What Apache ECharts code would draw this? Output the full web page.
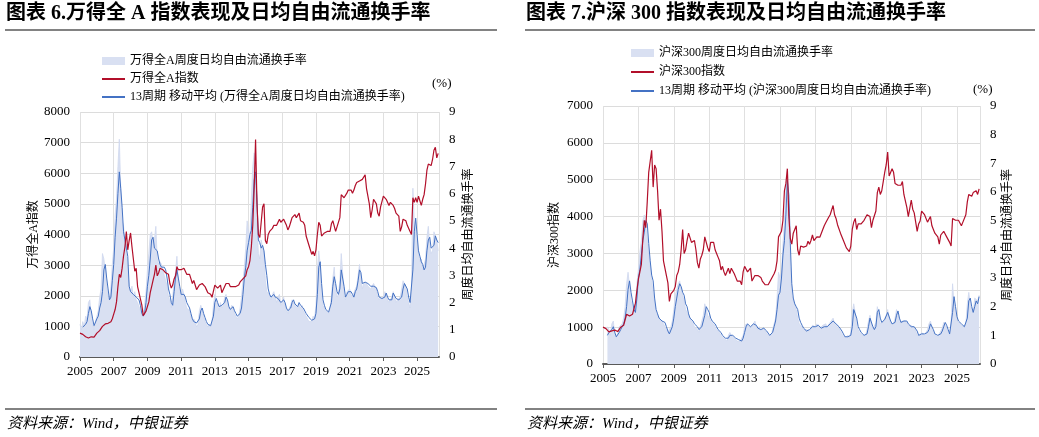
<!DOCTYPE html>
<html>
<head>
<meta charset="utf-8">
<script src="https://cdn.jsdelivr.net/npm/echarts@6/dist/echarts.min.js"></script>
<style>
  html, body { margin: 0; padding: 0; background: #fff; }
  #chart { width: 1039px; height: 437px; }
</style>
</head>
<body>
<div id="chart"></div>
<script>
// monthly points, Jan 2005 .. Apr 2026
const startYear = 2005
const yearTicks = [2005, 2007, 2009, 2011, 2013, 2015, 2017, 2019, 2021, 2023, 2025]

// 万得全A指数
const wdaIndex = [
  780, 770, 740, 700, 660, 640, 620, 650, 660, 640, 650, 680,
  780, 830, 860, 900, 1000, 1050, 1080, 1090, 1100, 1120, 1150, 1250,
  1400, 1550, 1800, 2300, 2700, 2600, 2900, 3300, 3600, 4100, 3500, 3800,
  4050, 3600, 3200, 2800, 2900, 2300, 2100, 1900, 1700, 1350, 1400, 1500,
  1650, 1800, 2100, 2300, 2500, 2700, 3000, 2650, 2750, 2900, 2950, 2850,
  2800, 2750, 2800, 2700, 2400, 2250, 2350, 2550, 2650, 2950, 2850, 2900,
  2850, 2850, 2900, 2850, 2700, 2650, 2700, 2550, 2400, 2500, 2350, 2200,
  2200, 2350, 2300, 2400, 2450, 2300, 2200, 2100, 2100, 2050, 1950, 2150,
  2350, 2400, 2250, 2200, 2350, 2100, 2150, 2300, 2400, 2350, 2400, 2300,
  2250, 2300, 2250, 2300, 2300, 2350, 2450, 2500, 2550, 2550, 2650, 2850,
  2950, 3150, 3600, 4300, 5500, 7100, 5000, 4000, 3900, 4400, 4900, 5000,
  3800, 3700, 4000, 4100, 4100, 4200, 4300, 4350, 4300, 4400, 4500, 4400,
  4450, 4500, 4450, 4300, 4150, 4250, 4400, 4550, 4600, 4650, 4550, 4600,
  4700, 4450, 4500, 4400, 4300, 3950, 3900, 3650, 3600, 3350, 3450, 3300,
  3500, 4000, 4400, 4300, 3950, 4000, 4050, 4000, 4100, 4150, 4100, 4350,
  4450, 4400, 4100, 4250, 4250, 4550, 5300, 5350, 5200, 5250, 5350, 5450,
  5500, 5450, 5350, 5450, 5600, 5700, 5650, 5750, 5700, 5800, 5850, 5950,
  5500, 5500, 5000, 4550, 4800, 5150, 5200, 5000, 4700, 4600, 4900, 4950,
  5250, 5250, 5150, 5100, 4950, 5050, 5100, 4950, 4850, 4700, 4650, 4600,
  4100, 4250, 4500, 4500, 4450, 4300, 4250, 4100, 4000, 5200, 5050, 5200,
  5050, 5250, 5200, 4950, 5150, 5300, 5650, 6100, 6300, 6350, 6250, 6450,
  6750, 6850, 6500, 6650
]
// 万得全A周度日均自由流通换手率 (%)
const wdaTurnover = [
  1.2, 1.0, 1.3, 1.1, 1.5, 1.4, 2.0, 2.1, 1.5, 1.2, 1.0, 1.3,
  1.5, 1.7, 2.2, 2.5, 3.8, 3.6, 3.2, 2.6, 2.2, 2.1, 2.6, 3.4,
  4.0, 5.2, 5.8, 7.0, 8.0, 6.2, 5.0, 4.8, 4.2, 3.8, 3.2, 2.5,
  2.4, 2.6, 2.2, 2.4, 2.1, 2.0, 2.0, 1.7, 1.5, 1.6, 1.9, 2.4,
  3.2, 3.8, 4.5, 4.6, 4.2, 4.3, 4.8, 3.6, 3.4, 3.5, 3.4, 3.2,
  3.0, 2.8, 2.6, 2.2, 2.1, 1.8, 2.2, 2.8, 3.1, 3.7, 2.7, 2.4,
  2.2, 2.5, 2.3, 2.0, 1.8, 1.8, 1.7, 1.5, 1.3, 1.4, 1.3, 1.1,
  1.2, 1.7, 1.9, 1.7, 1.5, 1.3, 1.2, 1.1, 1.2, 1.1, 1.3, 1.9,
  2.3, 2.1, 1.9, 1.7, 2.0, 1.8, 1.9, 2.2, 2.3, 1.9, 1.8, 1.7,
  1.9, 1.8, 1.6, 1.5, 1.4, 1.5, 1.8, 2.2, 2.8, 3.3, 4.0, 5.0,
  4.6, 4.5, 5.8, 7.0, 7.5, 7.2, 5.0, 3.8, 3.6, 4.3, 4.3, 3.8,
  2.8, 2.4, 2.4, 2.3, 2.1, 2.3, 2.4, 2.2, 2.0, 2.2, 2.3, 1.9,
  2.0, 2.2, 1.9, 1.7, 1.6, 1.8, 1.9, 2.1, 2.1, 1.9, 1.9, 1.8,
  1.9, 1.8, 1.9, 1.7, 1.7, 1.5, 1.5, 1.3, 1.3, 1.3, 1.5, 1.4,
  1.9, 3.2, 3.9, 3.4, 2.2, 1.9, 1.8, 1.7, 1.7, 1.6, 1.8, 2.2,
  2.9, 3.3, 2.5, 2.2, 2.3, 2.8, 3.8, 3.1, 2.2, 2.1, 2.4, 2.4,
  2.5, 2.3, 2.2, 2.2, 2.5, 2.6, 3.0, 3.4, 2.9, 2.5, 2.7, 2.7,
  2.7, 2.6, 2.6, 2.5, 2.6, 2.7, 2.6, 2.5, 2.2, 2.1, 2.2, 2.1,
  2.2, 2.4, 2.3, 2.1, 2.0, 2.1, 2.2, 2.4, 2.2, 2.0, 2.1, 2.1,
  2.2, 2.5, 2.8, 2.7, 2.6, 2.2, 2.0, 1.8, 2.4, 6.2, 5.0, 4.6,
  4.0, 3.8, 3.5, 3.6, 3.2, 3.2, 3.6, 4.4, 4.8, 4.1, 3.8, 3.9,
  4.6, 4.6, 4.3, 3.9
]
// 13周期移动平均 (%)
const wdaMa13 = [
  null, null, 1.1, 1.1, 1.2, 1.3, 1.6, 1.85, 1.7, 1.4, 1.15, 1.2,
  1.4, 1.5, 1.8, 2.0, 2.4, 3.2, 3.4, 2.9, 2.5, 2.1, 2.2, 2.8,
  3.4, 4.4, 5.1, 6.0, 6.8, 6.2, 5.5, 4.6, 4.3, 4.0, 3.7, 2.6,
  2.4, 2.4, 2.3, 2.3, 2.2, 2.2, 2.1, 1.9, 1.6, 1.5, 1.6, 2.0,
  2.6, 3.0, 3.6, 4.3, 4.4, 4.0, 4.0, 3.9, 3.6, 3.4, 3.3, 3.3,
  3.3, 3.2, 2.9, 2.5, 2.3, 2.0, 1.9, 2.4, 2.9, 3.2, 2.9, 2.6,
  2.3, 2.3, 2.3, 2.2, 2.0, 1.9, 1.8, 1.6, 1.4, 1.3, 1.3, 1.25,
  1.2, 1.4, 1.7, 1.8, 1.6, 1.45, 1.3, 1.2, 1.15, 1.15, 1.2, 1.5,
  2.0, 2.15, 2.0, 1.85, 1.8, 1.9, 1.85, 2.0, 2.2, 2.1, 1.85, 1.75,
  1.8, 1.85, 1.7, 1.6, 1.5, 1.45, 1.6, 1.8, 2.3, 2.9, 3.3, 3.9,
  4.2, 4.5, 4.65, 5.5, 6.5, 6.8, 5.8, 4.3, 4.2, 4.0, 4.1, 3.9,
  3.4, 3.0, 2.5, 2.3, 2.2, 2.2, 2.3, 2.2, 2.15, 2.15, 2.1, 2.0,
  2.0, 2.1, 2.0, 1.8, 1.7, 1.75, 1.8, 2.0, 2.1, 1.95, 1.9, 1.85,
  2.0, 1.9, 1.85, 1.8, 1.75, 1.6, 1.55, 1.45, 1.4, 1.35, 1.35, 1.4,
  1.6, 2.3, 3.3, 3.5, 2.7, 2.1, 1.9, 1.75, 1.7, 1.65, 1.7, 2.0,
  2.6, 2.95, 2.7, 2.4, 2.3, 2.5, 3.2, 3.25, 2.6, 2.2, 2.3, 2.4,
  2.4, 2.4, 2.3, 2.2, 2.4, 2.5, 2.8, 3.2, 3.1, 2.7, 2.7, 2.75,
  2.7, 2.7, 2.65, 2.6, 2.55, 2.6, 2.6, 2.55, 2.4, 2.2, 2.15, 2.15,
  2.2, 2.2, 2.35, 2.2, 2.1, 2.05, 2.1, 2.35, 2.3, 2.15, 2.1, 2.1,
  2.15, 2.2, 2.5, 2.7, 2.75, 2.5, 2.2, 2.0, 1.95, 3.2, 4.6, 5.1,
  4.5, 3.9, 3.7, 3.5, 3.4, 3.2, 3.3, 3.9, 4.3, 4.4, 4.0, 3.95,
  4.1, 4.45, 4.3, 4.2
]

// 沪深300指数
const hsIndex = [
  1000, 1010, 960, 920, 870, 880, 900, 940, 920, 900, 880, 920,
  1000, 1040, 1050, 1200, 1350, 1400, 1300, 1300, 1350, 1400, 1650, 2000,
  2300, 2500, 2700, 3400, 3900, 3700, 4400, 5200, 5500, 5800, 4800, 5400,
  5300, 4700, 3900, 4200, 3600, 2800, 2800, 2400, 2200, 1700, 1900, 1850,
  2000, 2100, 2400, 2500, 2700, 3100, 3650, 3000, 3100, 3350, 3550, 3550,
  3300, 3300, 3350, 3100, 2750, 2600, 2850, 2950, 3100, 3450, 3300, 3150,
  3050, 3300, 3250, 3300, 3100, 3000, 2900, 2800, 2550, 2650, 2500, 2400,
  2450, 2600, 2450, 2600, 2580, 2450, 2350, 2250, 2300, 2250, 2150, 2500,
  2650, 2650, 2500, 2450, 2600, 2250, 2300, 2400, 2450, 2400, 2450, 2350,
  2250, 2200, 2150, 2150, 2150, 2180, 2300, 2350, 2450, 2550, 2800, 3450,
  3500, 3600, 3900, 4700, 4900, 5300, 4000, 3400, 3250, 3550, 3600, 3750,
  3100, 2950, 3200, 3180, 3170, 3150, 3200, 3330, 3250, 3350, 3500, 3350,
  3400, 3450, 3460, 3440, 3480, 3650, 3750, 3830, 3840, 3980, 4050, 4030,
  4300, 4050, 3950, 3780, 3800, 3550, 3500, 3350, 3400, 3150, 3150, 3050,
  3200, 3650, 3850, 3950, 3650, 3800, 3850, 3800, 3850, 3900, 3850, 4050,
  4050, 4000, 3700, 3900, 3880, 4150, 4650, 4800, 4600, 4700, 4950, 5200,
  5400, 5750, 5100, 5100, 5300, 5200, 4900, 4850, 4850, 4900, 4850, 4950,
  4600, 4550, 4250, 4000, 4050, 4450, 4200, 4100, 3850, 3600, 3800, 3880,
  4150, 4100, 4050, 4000, 3850, 3850, 4000, 3750, 3700, 3550, 3500, 3450,
  3250, 3500, 3550, 3600, 3600, 3450, 3450, 3300, 3200, 3950, 3900, 3900,
  3850, 3900, 3900, 3750, 3850, 3900, 4050, 4400, 4600, 4650, 4550, 4650,
  4700, 4700, 4600, 4750
]
// 沪深300周度日均自由流通换手率 (%)
const hsTurnover = [
  null, null, null, 1.3, 1.2, 1.0, 1.4, 1.5, 1.0, 0.9, 0.9, 1.3,
  1.3, 1.4, 1.6, 2.0, 2.8, 3.2, 2.7, 2.2, 2.0, 1.8, 2.1, 2.8,
  3.3, 3.9, 4.3, 5.0, 5.2, 4.8, 4.4, 3.8, 3.4, 2.9, 2.5, 2.1,
  1.8, 1.7, 1.6, 1.6, 1.5, 1.4, 1.4, 1.2, 1.1, 1.1, 1.3, 1.5,
  1.9, 2.4, 2.6, 2.8, 2.9, 2.6, 2.6, 2.2, 1.9, 1.8, 1.7, 1.6,
  1.5, 1.4, 1.3, 1.3, 1.2, 1.1, 1.3, 1.5, 1.7, 2.1, 1.9, 1.7,
  1.6, 1.5, 1.5, 1.4, 1.3, 1.2, 1.2, 1.1, 1.0, 1.0, 0.9, 0.85,
  0.8, 1.0, 1.1, 1.0, 0.95, 0.9, 0.85, 0.8, 0.85, 0.8, 0.8, 1.0,
  1.3, 1.4, 1.4, 1.3, 1.35, 1.3, 1.4, 1.5, 1.3, 1.2, 1.3, 1.15,
  1.2, 1.25, 1.15, 1.1, 1.0, 0.95, 1.0, 1.2, 1.4, 1.6, 2.3, 3.2,
  3.0, 3.2, 4.2, 5.0, 6.0, 6.8, 5.2, 3.4, 2.4, 2.2, 2.1, 1.9,
  1.6, 1.4, 1.4, 1.3, 1.2, 1.15, 1.2, 1.25, 1.15, 1.2, 1.35, 1.3,
  1.3, 1.4, 1.35, 1.25, 1.2, 1.35, 1.3, 1.4, 1.3, 1.35, 1.45, 1.45,
  1.6, 1.4, 1.35, 1.3, 1.3, 1.15, 1.05, 0.95, 0.95, 0.9, 1.0, 0.9,
  1.1, 1.8, 2.1, 1.8, 1.3, 1.2, 1.1, 1.1, 1.0, 0.95, 1.0, 1.2,
  1.5, 1.7, 1.4, 1.2, 1.15, 1.45, 2.0, 1.7, 1.4, 1.4, 1.5, 1.6,
  1.7, 1.9, 1.6, 1.4, 1.4, 1.4, 1.6, 1.9, 1.7, 1.45, 1.45, 1.5,
  1.5, 1.5, 1.5, 1.35, 1.3, 1.35, 1.3, 1.25, 1.15, 1.0, 1.05, 1.0,
  1.1, 1.1, 1.0, 1.05, 1.2, 1.4, 1.5, 1.3, 1.1, 1.0, 1.0, 0.95,
  1.0, 1.15, 1.25, 1.45, 1.4, 1.25, 1.1, 1.0, 1.4, 2.8, 2.1, 1.8,
  1.5, 1.5, 1.4, 1.4, 1.3, 1.3, 1.4, 2.1, 2.5, 2.1, 1.9, 1.8,
  2.3, 2.3, 2.2, 2.4
]
// 13周期移动平均 (%)
const hsMa13 = [
  null, null, null, 1.0, 1.1, 1.05, 1.2, 1.3, 1.1, 0.95, 0.9, 1.1,
  1.2, 1.3, 1.4, 1.6, 2.0, 2.6, 2.9, 2.5, 2.2, 1.9, 1.8, 2.3,
  3.0, 3.3, 3.8, 4.3, 4.6, 5.0, 4.9, 4.2, 3.6, 3.1, 2.9, 2.3,
  1.9, 1.75, 1.6, 1.55, 1.5, 1.5, 1.45, 1.3, 1.15, 1.05, 1.1, 1.3,
  1.6, 2.0, 2.3, 2.6, 2.8, 2.7, 2.5, 2.4, 2.1, 2.0, 1.75, 1.6,
  1.6, 1.5, 1.4, 1.35, 1.3, 1.2, 1.15, 1.3, 1.5, 1.7, 2.0, 1.9,
  1.8, 1.6, 1.5, 1.45, 1.4, 1.3, 1.2, 1.2, 1.1, 1.0, 0.95, 0.9,
  0.85, 0.9, 1.0, 1.05, 1.0, 0.95, 0.9, 0.85, 0.85, 0.8, 0.8, 0.9,
  1.1, 1.3, 1.4, 1.35, 1.3, 1.3, 1.4, 1.45, 1.35, 1.25, 1.3, 1.2,
  1.2, 1.25, 1.2, 1.15, 1.1, 1.0, 0.95, 1.1, 1.3, 1.5, 1.9, 2.4,
  2.5, 3.0, 3.8, 4.3, 5.2, 6.4, 5.9, 4.2, 2.8, 2.3, 2.1, 2.0,
  1.9, 1.6, 1.45, 1.35, 1.25, 1.2, 1.15, 1.2, 1.2, 1.2, 1.3, 1.35,
  1.3, 1.35, 1.35, 1.3, 1.25, 1.3, 1.3, 1.35, 1.3, 1.3, 1.4, 1.45,
  1.5, 1.5, 1.4, 1.35, 1.3, 1.25, 1.15, 1.05, 0.95, 0.9, 0.95, 0.95,
  1.0, 1.3, 1.9, 1.95, 1.6, 1.3, 1.2, 1.1, 1.05, 1.0, 0.95, 1.05,
  1.3, 1.6, 1.55, 1.3, 1.2, 1.3, 1.8, 1.9, 1.6, 1.45, 1.4, 1.55,
  1.6, 1.8, 1.75, 1.5, 1.4, 1.35, 1.45, 1.7, 1.85, 1.6, 1.45, 1.45,
  1.5, 1.55, 1.5, 1.4, 1.35, 1.3, 1.3, 1.3, 1.25, 1.15, 1.0, 1.0,
  1.05, 1.1, 1.05, 1.0, 1.1, 1.2, 1.4, 1.45, 1.2, 1.05, 1.0, 1.0,
  0.95, 1.05, 1.15, 1.3, 1.45, 1.35, 1.2, 1.05, 1.1, 1.8, 2.35, 2.0,
  1.65, 1.5, 1.45, 1.4, 1.35, 1.3, 1.25, 1.6, 2.2, 2.3, 2.0, 1.8,
  2.0, 2.2, 2.1, 2.35
]

const chart = echarts.init(document.getElementById('chart'))

const serif = '"Liberation Serif", "Noto Sans CJK SC", serif'
const red = '#b20f2a'
const blue = '#4472c4'
const areaFill = '#d9e0f2'

// month index -> fractional year on the x axis
const toPairs = arr => arr.map((v, i) => [startYear + i / 12, v])

function xAxisOpt (gridIndex) {
  return {
    type: 'value',
    gridIndex,
    min: 2005,
    max: 2026.3,
    interval: 2,
    axisLine: { lineStyle: { color: '#595959', width: 2 } },
    axisTick: { show: true, length: 4, lineStyle: { color: '#595959' } },
    axisLabel: {
      color: '#000', fontFamily: serif, fontSize: 13, margin: 8,
      showMaxLabel: false,
      formatter: v => yearTicks.includes(v) ? String(v) : ''
    },
    splitLine: { show: true, lineStyle: { color: '#e0e0e0' } }
  }
}

function leftY (gridIndex, max, name, nameGap) {
  return {
    type: 'value', gridIndex, position: 'left', min: 0, max, interval: 1000,
    axisLine: { show: false }, axisTick: { show: false },
    axisLabel: { color: '#000', fontFamily: serif, fontSize: 13, margin: 10, formatter: v => String(v) },
    splitLine: { lineStyle: { color: '#dcdcdc' } },
    name, nameLocation: 'middle', nameGap, nameRotate: 90,
    nameTextStyle: { color: '#000', fontFamily: serif, fontSize: 12 }
  }
}

function rightY (gridIndex, nameGap) {
  return {
    type: 'value', gridIndex, position: 'right', min: 0, max: 9, interval: 1,
    axisLine: { show: false }, axisTick: { show: false },
    axisLabel: { color: '#000', fontFamily: serif, fontSize: 13, margin: 10 },
    splitLine: { show: false },
    name: '周度日均自由流通换手率', nameLocation: 'middle', nameGap, nameRotate: 90,
    nameTextStyle: { color: '#000', fontFamily: serif, fontSize: 12 }
  }
}

function panelSeries (xIdx, yLeft, yRight, names, idx, turn, ma) {
  return [
    {
      name: names[0], type: 'line', xAxisIndex: xIdx, yAxisIndex: yRight,
      data: toPairs(turn), symbol: 'none', z: 1,
      itemStyle: { color: areaFill },
      lineStyle: { color: '#cfd8ef', width: 0.8 },
      areaStyle: { color: areaFill, opacity: 1 }
    },
    {
      name: names[2], type: 'line', xAxisIndex: xIdx, yAxisIndex: yRight,
      data: toPairs(ma), symbol: 'none', z: 2,
      itemStyle: { color: blue },
      lineStyle: { color: blue, width: 1 }
    },
    {
      name: names[1], type: 'line', xAxisIndex: xIdx, yAxisIndex: yLeft,
      data: toPairs(idx), symbol: 'none', z: 3,
      itemStyle: { color: red },
      lineStyle: { color: red, width: 1.2 }
    }
  ]
}

const wdaNames = ['万得全A周度日均自由流通换手率', '万得全A指数', '13周期 移动平均 (万得全A周度日均自由流通换手率)']
const hsNames = ['沪深300周度日均自由流通换手率', '沪深300指数', '13周期 移动平均 (沪深300周度日均自由流通换手率)']

function legendOpt (left, top, names, gap) {
  return {
    left, top, orient: 'vertical', itemGap: gap, itemWidth: 23, itemHeight: 8,
    selectedMode: false,
    textStyle: { color: '#000', fontFamily: serif, fontSize: 12 },
    data: [
      { name: names[0], icon: 'rect', itemStyle: { color: areaFill } },
      // hide the marker dot that line legends draw, keep the line
      { name: names[1], itemStyle: { opacity: 0 } },
      { name: names[2], itemStyle: { opacity: 0 } }
    ]
  }
}

const titleFont = 'bold 20px "Liberation Serif", "Noto Sans CJK SC", serif'
const sourceFont = 'italic 15px "Liberation Serif", "Noto Sans CJK SC", serif'

const option = {
  animation: false,
  backgroundColor: '#fff',
  grid: [
    { left: 80, top: 112, width: 359, height: 245 },
    { left: 603, top: 106, width: 377, height: 258 }
  ],
  xAxis: [xAxisOpt(0), xAxisOpt(1)],
  yAxis: [
    leftY(0, 8000, '万得全A指数', 40),
    rightY(0, 24),
    leftY(1, 7000, '沪深300指数', 42),
    rightY(1, 22)
  ],
  legend: [legendOpt(96, 50, wdaNames, 6), legendOpt(625, 42, hsNames, 7)],
  series: [
    ...panelSeries(0, 0, 1, wdaNames, wdaIndex, wdaTurnover, wdaMa13),
    ...panelSeries(1, 2, 3, hsNames, hsIndex, hsTurnover, hsMa13)
  ],
  graphic: [
    { type: 'text', left: 6, top: 4, style: { text: '图表 6.万得全 A 指数表现及日均自由流通换手率', font: titleFont, fill: '#000' } },
    { type: 'text', left: 526, top: 4, style: { text: '图表 7.沪深 300 指数表现及日均自由流通换手率', font: titleFont, fill: '#000' } },
    { type: 'line', shape: { x1: 5, y1: 30, x2: 497, y2: 30 }, style: { stroke: '#595959', lineWidth: 1.5 } },
    { type: 'line', shape: { x1: 525, y1: 30, x2: 1035, y2: 30 }, style: { stroke: '#595959', lineWidth: 1.5 } },
    { type: 'line', shape: { x1: 5, y1: 409, x2: 497, y2: 409 }, style: { stroke: '#595959', lineWidth: 1.5 } },
    { type: 'line', shape: { x1: 525, y1: 409, x2: 1035, y2: 409 }, style: { stroke: '#595959', lineWidth: 1.5 } },
    { type: 'text', left: 7, top: 417, style: { text: '资料来源：Wind，中银证券', font: sourceFont, fill: '#000' } },
    { type: 'text', left: 527, top: 417, style: { text: '资料来源：Wind，中银证券', font: sourceFont, fill: '#000' } },
    { type: 'text', left: 432, top: 77, style: { text: '(%)', font: '13px "Liberation Serif", serif', fill: '#000' } },
    { type: 'text', left: 973, top: 83, style: { text: '(%)', font: '13px "Liberation Serif", serif', fill: '#000' } }
  ]
}

chart.setOption(option)
</script>
</body>
</html>
